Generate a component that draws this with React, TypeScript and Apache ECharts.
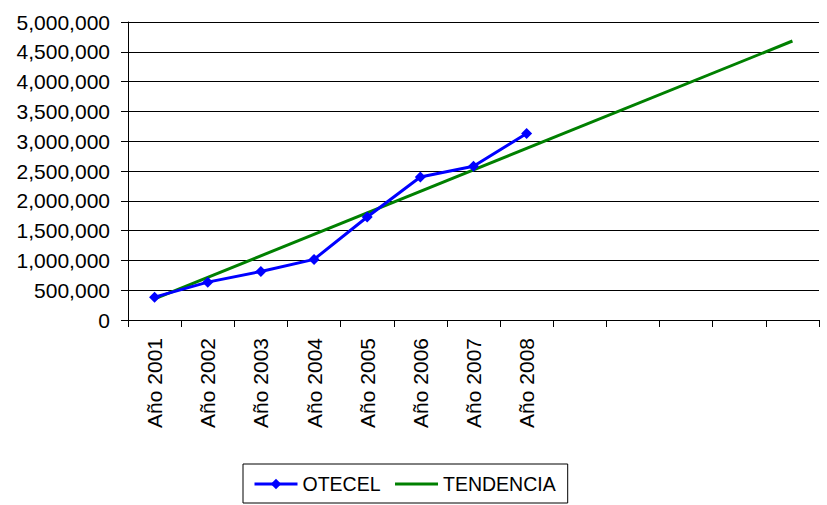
import React, { useEffect, useRef } from "react";
import * as echarts from "echarts";

const categories = [
  "Año 2001", "Año 2002", "Año 2003", "Año 2004", "Año 2005", "Año 2006", "Año 2007", "Año 2008",
  "", "", "", "", "",
];
const otecel = [383000, 635000, 815000, 1017000, 1728000, 2400000, 2580000, 3130000];
const tendencia: (number | null)[] = [356000, null, null, null, null, null, null, null, null, null, null, null, 4681000];
const yMin = 0;
const yMax = 5000000;
const yInterval = 500000;

const FONT = "Liberation Sans, Arial, Helvetica, sans-serif";

export default function App() {
  const ref = useRef<HTMLDivElement>(null);
  useEffect(() => {
    if (!ref.current) return;
    const chart = echarts.init(ref.current, undefined, { renderer: "svg" });
    chart.setOption({
      animation: false,
      backgroundColor: "#ffffff",
      textStyle: { fontFamily: FONT },
      grid: { left: 128, right: 8, top: 22, bottom: 185, containLabel: false },
      legend: {
        left: 243,
        top: 464,
        padding: [10, 12, 9, 10],
        borderColor: "#000000",
        borderWidth: 1,
        itemWidth: 43,
        itemHeight: 13,
        itemGap: 13,
        lineStyle: { width: 3 },
        textStyle: { fontFamily: FONT, fontSize: 19.5, color: "#000000" },
        data: [
          { name: "OTECEL" },
          { name: "TENDENCIA", itemStyle: { opacity: 0 } },
        ],
      },
      xAxis: {
        type: "category",
        data: categories,
        boundaryGap: true,
        axisLine: { show: true, lineStyle: { color: "#000000", width: 1 } },
        axisTick: { show: true, alignWithLabel: false, interval: 0, length: 7, lineStyle: { color: "#000000" } },
        axisLabel: {
          interval: 0,
          rotate: 90,
          margin: 18,
          fontSize: 21,
          color: "#000000",
          fontFamily: FONT,
        },
        splitLine: { show: false },
      },
      yAxis: {
        type: "value",
        min: yMin,
        max: yMax,
        interval: yInterval,
        axisLine: { show: true, lineStyle: { color: "#000000", width: 1 } },
        axisTick: { show: true, length: 7, lineStyle: { color: "#000000" } },
        axisLabel: {
          margin: 18,
          fontSize: 21,
          color: "#000000",
          fontFamily: FONT,
          formatter: (v: number) => v.toLocaleString("en-US"),
        },
        splitLine: { show: true, lineStyle: { color: "#000000", width: 1 } },
      },
      series: [
        {
          name: "OTECEL",
          type: "line",
          data: otecel,
          symbol: "diamond",
          symbolSize: 11,
          showSymbol: true,
          lineStyle: { color: "#0000ff", width: 3 },
          itemStyle: { color: "#0000ff" },
          z: 3,
        },
        {
          name: "TENDENCIA",
          type: "line",
          data: tendencia,
          connectNulls: true,
          symbol: "none",
          showSymbol: false,
          lineStyle: { color: "#008000", width: 3 },
          itemStyle: { color: "#008000" },
          z: 2,
        },
      ],
    });
    return () => chart.dispose();
  }, []);
  return (
    <div
      ref={ref}
      style={{ position: "fixed", left: 0, top: 0, width: 827, height: 505, background: "#fff" }}
    />
  );
}
